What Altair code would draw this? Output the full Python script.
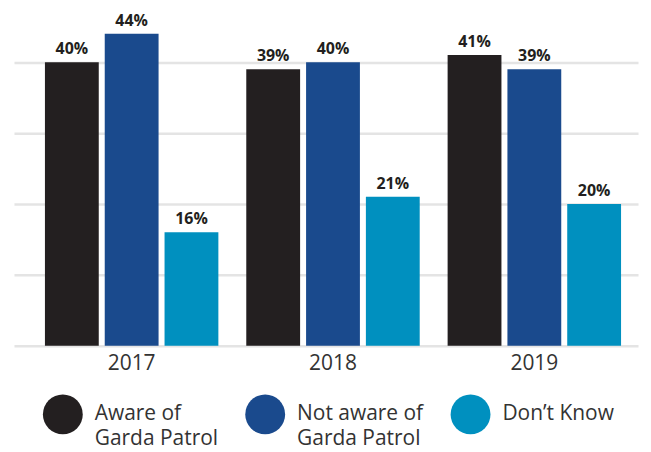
import altair as alt
import pandas as pd

years = ["2017", "2018", "2019"]
categories = ["Aware of|Garda Patrol", "Not aware of|Garda Patrol", "Don\u2019t Know|"]
aware = [40, 39, 41]
not_aware = [44, 40, 39]
dont_know = [16, 21, 20]
colors = ["#231f20", "#1a4a8d", "#0090bf"]

rows = []
for i, y in enumerate(years):
    for cat, vals in zip(categories, [aware, not_aware, dont_know]):
        rows.append({"year": y, "cat": cat, "value": vals[i], "label": f"{vals[i]}%"})
df = pd.DataFrame(rows)

FONT = "Open Sans"

base = alt.Chart(df).encode(
    x=alt.X(
        "year:N",
        scale=alt.Scale(paddingInner=0.1386, paddingOuter=0.119, align=0.646),
        axis=alt.Axis(title=None, labelAngle=0, ticks=False, domain=False, grid=False,
                      labelFontSize=21, labelColor="#333333", labelPadding=7, labelFont=FONT),
    ),
    xOffset=alt.XOffset("cat:N", sort=categories, scale=alt.Scale(paddingInner=0.1, paddingOuter=0)),
    y=alt.Y(
        "value:Q",
        scale=alt.Scale(domain=[0, 46]),
        axis=alt.Axis(title=None, labels=False, ticks=False, domain=False,
                      values=[0, 10, 20, 30, 40], gridColor="#e4e4e4", gridWidth=2.5),
    ),
)

bars = base.mark_bar().encode(
    color=alt.Color(
        "cat:N",
        sort=categories,
        scale=alt.Scale(domain=categories, range=colors),
        legend=alt.Legend(
            title=None, orient="none", legendX=29, legendY=376, direction="horizontal",
            columns=3, symbolType="circle", symbolSize=1600, symbolStrokeWidth=0,
            symbolOpacity=1, labelExpr="split(datum.label, '|')", labelFontSize=21,
            labelFont=FONT, labelColor="#333333", columnPadding=27, labelOffset=12,
            labelLimit=300, padding=0, labelBaseline="middle",
        ),
    )
)

text = base.mark_text(dy=-5, baseline="bottom", fontWeight="bold", fontSize=16,
                      font=FONT, color="#231f20").encode(text="label:N")

chart = (bars + text).properties(
    width=626, height=327,
    padding={"left": 6, "top": 4, "right": 5, "bottom": 5},
).configure(
    view={"stroke": None},
    style={"guide-label": {"lineHeight": 25}},
)

chart.save("out.html", embed_options={"renderer": "svg", "actions": False})
